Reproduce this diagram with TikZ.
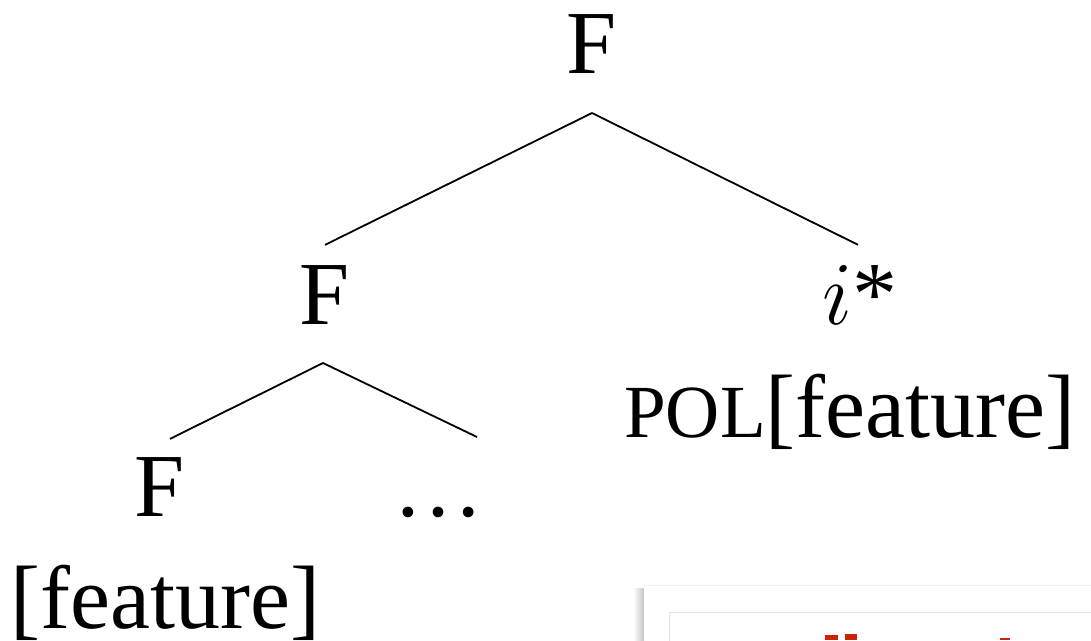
\RequirePackage{fix-cm}
\documentclass[tikz,border=0pt]{standalone}
\usepackage{fontspec}
\IfFontExistsTF{LiberationSerif-Regular.ttf}
  {\setmainfont{LiberationSerif-Regular.ttf}}
  {\setmainfont{Liberation Serif}}
\definecolor{alertred}{RGB}{200,36,8}
\tikzset{
  lbl/.style={font=\rmfamily\fontsize{90pt}{90pt}\selectfont, inner sep=0pt, anchor=base},
  branch/.style={line width=1.8pt}
}
\begin{document}
\begin{tikzpicture}[x=1pt, y=-1pt]
\useasboundingbox (0,0) rectangle (1091,640);
\node[lbl] (root) at (592,73) {F};
\node[lbl] (mid) at (325,324) {F};
\node[lbl] (istar) at (860,324) {$i$*};
\node[lbl, anchor=base west] (pol) at (624,437) {{\fontsize{75pt}{75pt}\selectfont POL}[feature]};
\node[lbl] (low) at (160,516) {F};
\node[lbl] (dots) at (438,516) {\ldots};
\node[lbl, anchor=base west] (feat) at (10,628) {[feature]};
\draw[branch] ([yshift=-40pt]root.base) -- ([yshift=20pt]mid.north);
\draw[branch] ([yshift=-40pt]root.base) -- ([shift={(-2pt,20pt)}]istar.north);
\draw[branch] ([shift={(-2pt,-39pt)}]mid.base) -- ([shift={(10pt,18pt)}]low.north);
\draw[branch] ([shift={(-2pt,-39pt)}]mid.base) -- ([shift={(39pt,79pt)}]dots.base);
% panel in the corner
\shade[left color=white, right color=gray!45] (633,588) rectangle (644,640);
\fill[white] (644,585) rectangle (1091,640);
\draw[gray!10, line width=1.5pt] (644,585.5) -- (1091,585.5);
\draw[gray!20, line width=1.5pt] (669.5,660) -- (669.5,612.5) -- (1095,612.5);
\fill[alertred] (825,635) rectangle (838,640);
\fill[alertred] (845,634) rectangle (857,640);
\fill[alertred] (1000,638) rectangle (1010,640);
\end{tikzpicture}
\end{document}
